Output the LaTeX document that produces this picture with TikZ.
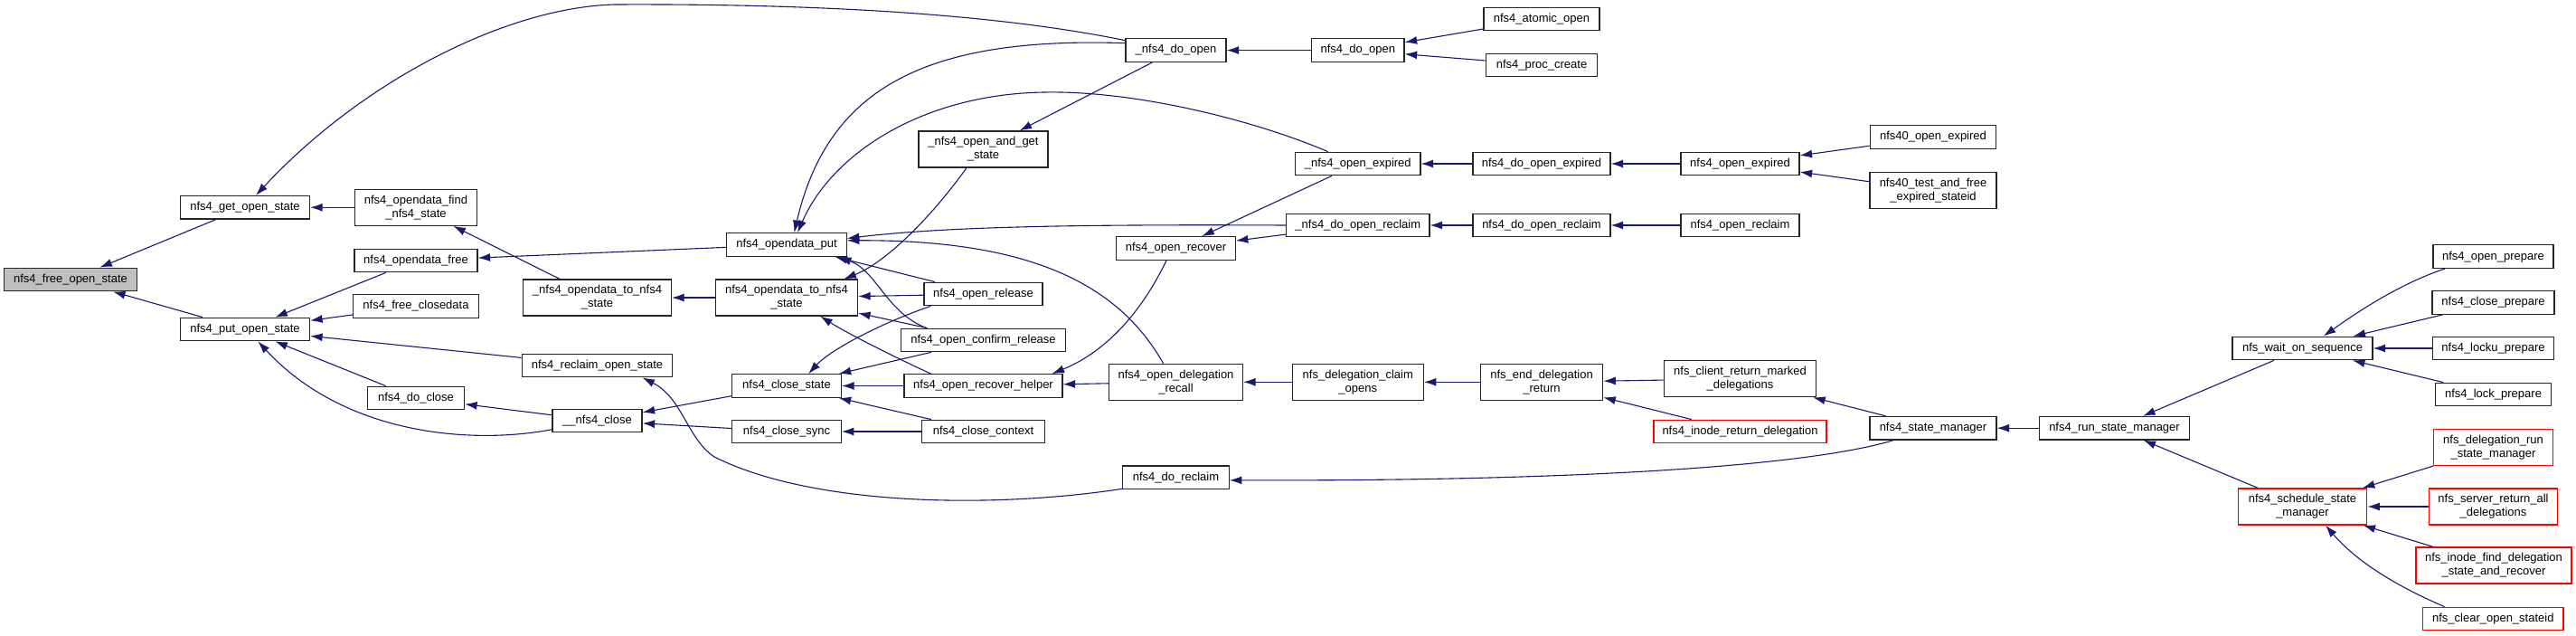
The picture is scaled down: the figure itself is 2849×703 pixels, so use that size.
\documentclass[tikz,border=0pt]{standalone}
\usepackage{fontspec}
\setmainfont{Liberation Sans}
\usetikzlibrary{arrows.meta}
\definecolor{edgeblue}{HTML}{191970}
\definecolor{rootgray}{HTML}{BFBFBF}

\begin{document}
\begin{tikzpicture}[x=1pt, y=-1pt,
  box/.style={draw=black!85, line width=1.2pt, fill=white, align=center, minimum height=25.6pt, inner sep=1pt, font=\fontsize{13}{15}\selectfont},
  tall/.style={box, minimum height=40pt},
  trunc/.style={draw=red},
  root/.style={fill=rootgray},
  arr/.style={-{Latex[length=13.5pt, width=9pt]}, line width=1.1pt, draw=edgeblue}
]
\useasboundingbox (0,0) rectangle (2849,703);

\node[box, root, minimum width=147pt] (free) at (78,309) {nfs4\_free\_open\_state};
\node[box, minimum width=143pt] (getos) at (271,229.3) {nfs4\_get\_open\_state};
\node[box, minimum width=143pt] (putos) at (271,364) {nfs4\_put\_open\_state};
\node[tall, minimum width=135pt] (findst) at (460,229.3) {nfs4\_opendata\_find\\\_nfs4\_state};
\node[box, minimum width=136pt] (odfree) at (460,288) {nfs4\_opendata\_free};
\node[box, minimum width=139pt] (fclose) at (460,338.5) {nfs4\_free\_closedata};
\node[box, minimum width=107pt] (doclose) at (460,440) {nfs4\_do\_close};
\node[tall, minimum width=164pt] (ftons) at (660.5,329) {\_nfs4\_opendata\_to\_nfs4\\\_state};
\node[box, minimum width=166.5pt] (reclos) at (660.5,404) {nfs4\_reclaim\_open\_state};
\node[box, minimum width=99pt] (nclose) at (660.5,465) {\_\_nfs4\_close};
\node[box, minimum width=132.5pt] (odput) at (870,270.5) {nfs4\_opendata\_put};
\node[tall, minimum width=157pt] (otons) at (870,329) {nfs4\_opendata\_to\_nfs4\\\_state};
\node[box, minimum width=121pt] (cstate) at (870,426.5) {nfs4\_close\_state};
\node[box, minimum width=120.5pt] (csync) at (870,477) {nfs4\_close\_sync};
\node[tall, minimum width=143pt] (oandg) at (1087.5,165) {\_nfs4\_open\_and\_get\\\_state};
\node[box, minimum width=131pt] (orel) at (1087.5,325) {nfs4\_open\_release};
\node[box, minimum width=181.5pt] (ocrel) at (1087.5,376) {nfs4\_open\_confirm\_release};
\node[box, minimum width=175pt] (rhelp) at (1087.5,426.5) {nfs4\_open\_recover\_helper};
\node[box, minimum width=135.5pt] (cctx) at (1087.5,477) {nfs4\_close\_context};
\node[box, minimum width=111pt] (dopen) at (1300.5,55.6) {\_nfs4\_do\_open};
\node[box, minimum width=131.5pt] (orec) at (1300.5,274.5) {nfs4\_open\_recover};
\node[tall, minimum width=148pt] (odrec) at (1300.5,422.3) {nfs4\_open\_delegation\\\_recall};
\node[box, minimum width=117.5pt] (doreclaim) at (1300.5,527.7) {nfs4\_do\_reclaim};
\node[box, minimum width=102.5pt] (ndopen) at (1501.8,55.6) {nfs4\_do\_open};
\node[box, minimum width=138.4pt] (oexp) at (1501.8,181) {\_nfs4\_open\_expired};
\node[box, minimum width=158.5pt] (dorecl) at (1501.8,249) {\_nfs4\_do\_open\_reclaim};
\node[tall, minimum width=145pt] (dclaim) at (1501.8,422.3) {nfs\_delegation\_claim\\\_opens};
\node[box, minimum width=128pt] (atomic) at (1705,21) {nfs4\_atomic\_open};
\node[box, minimum width=123.5pt] (pcreate) at (1705,72) {nfs4\_proc\_create};
\node[box, minimum width=152pt] (doexp) at (1705,181) {nfs4\_do\_open\_expired};
\node[box, minimum width=152pt] (ndorecl) at (1705,249) {nfs4\_do\_open\_reclaim};
\node[tall, minimum width=135.4pt] (enddel) at (1705,422.3) {nfs\_end\_delegation\\\_return};
\node[box, minimum width=131pt] (nexp) at (1924.5,181) {nfs4\_open\_expired};
\node[box, minimum width=131pt] (oreclaim) at (1924.5,249) {nfs4\_open\_reclaim};
\node[tall, minimum width=168.5pt] (cmarked) at (1924.5,418.7) {nfs\_client\_return\_marked\\\_delegations};
\node[box, trunc, minimum width=191pt] (iretdel) at (1924.5,477) {nfs4\_inode\_return\_delegation};
\node[box, minimum width=139.5pt] (n40exp) at (2138,151.5) {nfs40\_open\_expired};
\node[tall, minimum width=140pt] (n40test) at (2138,210.5) {nfs40\_test\_and\_free\\\_expired\_stateid};
\node[box, minimum width=140pt] (smgr) at (2138,473.2) {nfs4\_state\_manager};
\node[box, minimum width=165.3pt] (runsm) at (2338.5,473.2) {nfs4\_run\_state\_manager};
\node[box, minimum width=155pt] (waitseq) at (2546.5,385) {nfs\_wait\_on\_sequence};
\node[tall, trunc, minimum width=142.5pt] (schedsm) at (2546.5,560) {nfs4\_schedule\_state\\\_manager};
\node[box, minimum width=133pt] (oprep) at (2757.5,283.7) {nfs4\_open\_prepare};
\node[box, minimum width=135pt] (cprep) at (2757.5,334.5) {nfs4\_close\_prepare};
\node[box, minimum width=134.5pt] (lukprep) at (2757.5,385) {nfs4\_locku\_prepare};
\node[box, minimum width=128pt] (lkprep) at (2757.5,436) {nfs4\_lock\_prepare};
\node[tall, trunc, minimum width=132pt] (drsm) at (2757.5,494.5) {nfs\_delegation\_run\\\_state\_manager};
\node[tall, trunc, minimum width=142.4pt] (sretall) at (2757.5,560) {nfs\_server\_return\_all\\\_delegations};
\node[tall, trunc, minimum width=172pt] (ifind) at (2758,625) {nfs\_inode\_find\_delegation\\\_state\_and\_recover};
\node[box, trunc, minimum width=155.5pt] (clrsid) at (2757.3,684) {nfs\_clear\_open\_stateid};

\draw[arr] (getos) -- (free);
\draw[arr] (putos) -- (free);
\draw[arr] (findst) -- (getos);
\draw[arr] (dopen.169) .. controls (1100,15) and (900,4) .. (680,5) .. controls (560,8) and (400,90) .. (getos.48);
\draw[arr] (ftons) -- (findst);
\draw[arr] (odfree) -- (putos);
\draw[arr] (fclose) -- (putos);
\draw[arr] (reclos) -- (putos);
\draw[arr] (doclose) -- (putos);
\draw[arr] (nclose.191) .. controls (520,492) and (380,480) .. (putos.-43);
\draw[arr] (odput) -- (odfree);
\draw[arr] (otons) -- (ftons);
\draw[arr] (dopen.172) .. controls (1020,40) and (915,100) .. (odput.58);
\draw[arr] (oexp.158) .. controls (1380,130) and (1250,100) .. (1155,102) .. controls (1020,104) and (920,170) .. (odput.48);
\draw[arr] (dorecl.west) .. controls (1200,248) and (1050,250) .. (odput.6);
\draw[arr] (odrec.124) .. controls (1240,320) and (1150,265) .. (odput.4);
\draw[arr] (orel) -- (odput);
\draw[arr] (ocrel.168) .. controls (980,345) and (970,300) .. (odput.-13);
\draw[arr] (oandg.228) .. controls (1030,240) and (980,290) .. (otons.18);
\draw[arr] (orel) -- (otons);
\draw[arr] (ocrel) -- (otons);
\draw[arr] (rhelp.167) .. controls (990,395) and (940,370) .. (otons.-29);
\draw[arr] (dopen) -- (oandg);
\draw[arr] (orel.193) .. controls (980,355) and (920,385) .. (cstate.29);
\draw[arr] (ocrel) -- (cstate);
\draw[arr] (rhelp) -- (cstate);
\draw[arr] (cctx) -- (cstate);
\draw[arr] (cstate) -- (nclose);
\draw[arr] (csync) -- (nclose);
\draw[arr] (nclose) -- (doclose);
\draw[arr] (cctx) -- (csync);
\draw[arr] (doreclaim.192) .. controls (1100,562) and (900,560) .. (790,505) .. controls (760,485) and (755,440) .. (reclos.-15);
\draw[arr] (orec.232) .. controls (1260,350) and (1220,390) .. (rhelp.10);
\draw[arr] (odrec) -- (rhelp);
\draw[arr] (oexp) -- (orec);
\draw[arr] (dorecl) -- (orec);
\draw[arr] (ndopen) -- (dopen);
\draw[arr] (atomic) -- (ndopen);
\draw[arr] (pcreate) -- (ndopen);
\draw[arr] (doexp) -- (oexp);
\draw[arr] (nexp) -- (doexp);
\draw[arr] (n40exp) -- (nexp);
\draw[arr] (n40test) -- (nexp);
\draw[arr] (ndorecl) -- (dorecl);
\draw[arr] (oreclaim) -- (ndorecl);
\draw[arr] (dclaim) -- (odrec);
\draw[arr] (enddel) -- (dclaim);
\draw[arr] (cmarked) -- (enddel);
\draw[arr] (iretdel) -- (enddel);
\draw[arr] (smgr) -- (cmarked);
\draw[arr] (smgr.197) .. controls (2000,515) and (1750,532) .. (doreclaim.-3);
\draw[arr] (runsm) -- (smgr);
\draw[arr] (waitseq) -- (runsm);
\draw[arr] (schedsm) -- (runsm);
\draw[arr] (oprep.194) .. controls (2650,315) and (2600,350) .. (waitseq.30);
\draw[arr] (cprep) -- (waitseq);
\draw[arr] (lukprep) -- (waitseq);
\draw[arr] (lkprep) -- (waitseq);
\draw[arr] (drsm) -- (schedsm);
\draw[arr] (sretall) -- (schedsm);
\draw[arr] (ifind) -- (schedsm);
\draw[arr] (clrsid.166) .. controls (2660,652) and (2610,625) .. (schedsm.-39);
\end{tikzpicture}
\end{document}
